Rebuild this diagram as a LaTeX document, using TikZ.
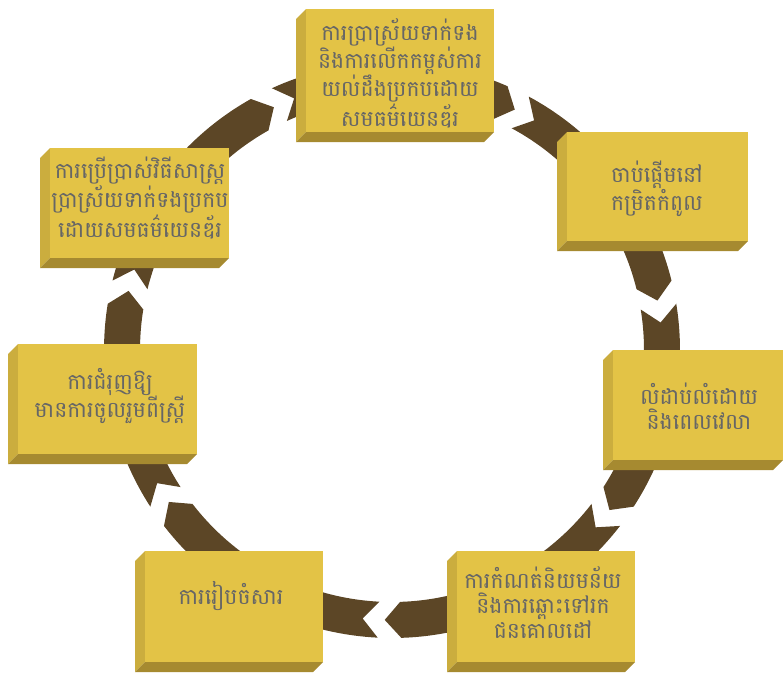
\documentclass[tikz,border=0pt]{standalone}
\usepackage{fontspec}
\newfontfamily\khmer[Script=Khmer]{Battambang}
\definecolor{face}{HTML}{E3C346}
\definecolor{lside}{HTML}{CBAD3E}
\definecolor{bside}{HTML}{A68A30}
\definecolor{ringc}{HTML}{5C4626}
\definecolor{txt}{HTML}{666666}
\tikzset{
  lbl/.style={font=\khmer\fontsize{22}{25}\selectfont, text=txt, align=center, inner sep=0pt},
  ringseg/.style={fill=ringc},
  facestyle/.style={fill=face},
  leftstyle/.style={fill=lside},
  bottomstyle/.style={fill=bside},
}
% bevelled box: x0,y0,x1,y1
\newcommand\bevbox[4]{%
  \fill[leftstyle] (#1,#2+10) -- (#1+10,#2) -- (#1+10,#4-10) -- (#1,#4) -- cycle;
  \fill[bottomstyle] (#1,#4) -- (#1+10,#4-10) -- (#3,#4-10) -- (#3-10,#4) -- cycle;
  \fill[facestyle] (#1+10,#2) rectangle (#3,#4-10);
}
% ring segment: tail corner angle, head corner angle
\newcommand\ringpart[2]{%
  \fill[ringseg] (#1:288) -- plot[domain=#1:#2,samples=40] (\x:288) -- ({#2+3.4}:270)
    -- plot[domain=#2:#1,samples=40] (\x:252) -- ({#1+3.4}:270) -- cycle;
}
\begin{document}
\begin{tikzpicture}[x=1pt,y=-1pt]
\useasboundingbox (0,0) rectangle (783,673);
\begin{scope}[shift={(392,350)}]
  \ringpart{245.35}{293.65}
  \ringpart{298.35}{346.05}
  \ringpart{350.75}{392.95}
  \ringpart{37.65}{88.15}
  \ringpart{92.85}{142.35}
  \ringpart{147.05}{189.25}
  \ringpart{193.95}{240.65}
\end{scope}
\bevbox{296}{9}{494}{142}
\bevbox{557}{132}{748}{251}
\bevbox{603}{350}{783}{470}
\bevbox{447}{551}{635}{672}
\bevbox{135}{551}{323}{672}
\bevbox{8}{344}{197}{464}
\bevbox{40}{148}{229}{268}
\node[lbl] (t1) at (400,73) {ការប្រាស្រ័យទាក់ទង\\និងការលើកកម្ពស់ការ\\យល់ដឹងប្រកបដោយ\\សមធម៌យេនឌ័រ};
\node[lbl] (t2) at (657,189) {ចាប់ផ្ដើមនៅ\\កម្រិតកំពូល};
\node[lbl] (t3) at (699,406) {លំដាប់លំដោយ\\និងពេលវេលា};
\node[lbl] (t4) at (543,603) {ការកំណត់និយមន័យ\\និងការឆ្ពោះទៅរក\\ជនគោលដៅ};
\node[lbl] (t5) at (231,596) {ការរៀបចំសារ};
\node[lbl] (t6) at (110,396) {ការជំរុញឱ្យ\\មានការចូលរួមពីស្ត្រី};
\node[lbl] (t7) at (140,198) {ការប្រើប្រាស់វិធីសាស្ត្រ\\ប្រាស្រ័យទាក់ទងប្រកប\\ដោយសមធម៌យេនឌ័រ};
\end{tikzpicture}
\end{document}
